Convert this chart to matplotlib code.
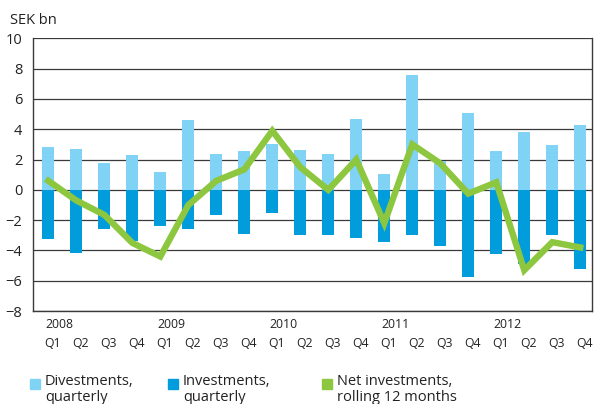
import numpy as np
import matplotlib
matplotlib.use('Agg')
import matplotlib.pyplot as plt
from matplotlib.transforms import ScaledTranslation
from matplotlib.patches import Rectangle

plt.rcParams['font.family'] = ['Open Sans', 'DejaVu Sans']

# Data (SEK bn)
years = ['2008', '2009', '2010', '2011', '2012']
quarters = ['Q1', 'Q2', 'Q3', 'Q4'] * 5
divestments = [2.8, 2.7, 1.75, 2.3, 1.2, 4.6, 2.35, 2.55, 3.0, 2.6,
               2.35, 4.65, 1.08, 7.55, 1.9, 5.05, 2.55, 3.8, 2.95, 4.25]
investments = [-3.25, -4.15, -2.6, -3.4, -2.4, -2.6, -1.65, -2.9, -1.5, -3.0,
               -3.0, -3.15, -3.42, -3.0, -3.7, -5.75, -4.22, -4.9, -2.95, -5.25]
net_rolling = [0.6, -0.7, -1.65, -3.5, -4.4, -1.0, 0.6, 1.35, 3.9, 1.5,
               0.0, 2.0, -2.2, 3.0, 1.75, -0.25, 0.5, -5.3, -3.45, -3.8]

light_blue = '#80D3F5'
dark_blue = '#009CDC'
green = '#8DC63F'
grid_col = '#3a3a3a'

x = np.arange(len(quarters))

fig = plt.figure(figsize=(5.96, 4.04), dpi=100)
ax = fig.add_axes([0.0562, 0.230, 0.9371, 0.675])

ax.bar(x, divestments, width=0.43, color=light_blue, zorder=2)
ax.bar(x, investments, width=0.43, color=dark_blue, zorder=2)
ax.plot(x, net_rolling, color=green, lw=4.6, zorder=3, solid_joinstyle='miter')

ax.set_xlim(-0.53, 19.42)
ax.set_ylim(-8, 10)
ax.set_yticks(np.arange(-8, 11, 2))
ax.yaxis.grid(True, color=grid_col, lw=0.9, zorder=1)
ax.set_axisbelow(True)
for s in ['left', 'bottom', 'right']:
    ax.spines[s].set_color(grid_col)
    ax.spines[s].set_linewidth(1.0)
ax.spines['top'].set_visible(False)

ax.tick_params(axis='y', length=0, pad=8, labelsize=10.5, colors='#222222')
ax.tick_params(axis='x', length=0, pad=19, labelsize=8.8, colors='#222222')
ax.set_xticks(x)
ax.set_xticklabels(quarters)
offset = ScaledTranslation(4 / 100, 0, fig.dpi_scale_trans)
for lbl in ax.get_xticklabels():
    lbl.set_transform(lbl.get_transform() + offset)

trans = ax.get_xaxis_transform()
for i, yr in enumerate(years):
    ax.text(x[i * 4] - 0.1, -0.025, yr, transform=trans, ha='left', va='top',
            fontsize=8.8, color='#222222')

fig.text(10 / 596, 1 - 20 / 404, 'SEK bn', ha='left', va='center',
         fontsize=10.5, color='#222222')

# Legend
legend_items = [('Divestments,\nquarterly', light_blue, 30),
                ('Investments,\nquarterly', dark_blue, 168),
                ('Net investments,\nrolling 12 months', green, 322)]
for label, col, px in legend_items:
    fig.patches.append(Rectangle((px / 596, 1 - 389 / 404), 10 / 596, 10 / 404,
                                 transform=fig.transFigure, color=col))
    fig.text((px + 15) / 596, 1 - 374 / 404, label, ha='left', va='top',
             fontsize=10.5, color='#222222', linespacing=1.05)

fig.savefig('out.png', dpi=100)
